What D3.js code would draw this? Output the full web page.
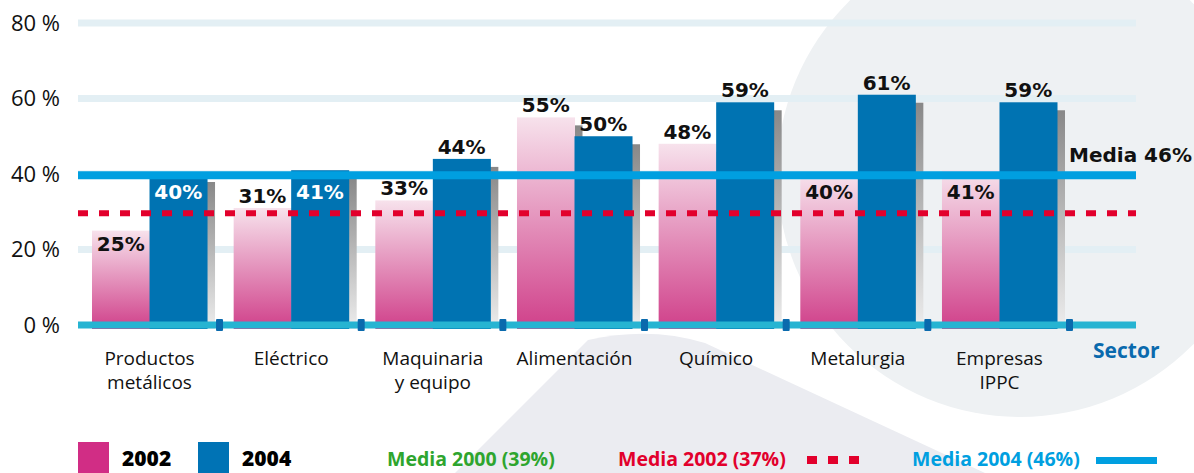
<!DOCTYPE html>
<html>
<head>
<meta charset="utf-8">
<script src="https://cdn.jsdelivr.net/npm/d3@7"></script>
<style>
  body { margin: 0; background: #fff; }
  svg { display: block; }
</style>
</head>
<body>
<div id="chart"></div>
<script>
// data
var sectors = ["Productos\nmetálicos", "Eléctrico", "Maquinaria\ny equipo", "Alimentación", "Químico", "Metalurgia", "Empresas\nIPPC"];
var years = ["2002", "2004"];
var values2002 = [25, 31, 33, 55, 48, 40, 41];
var values2004 = [40, 41, 44, 50, 59, 61, 59];
var yTicks = [0, 20, 40, 60, 80];
// where the average lines sit on the axis, as drawn
var media2004Pos = 39.7;
var media2002Pos = 29.6;
var media2004Label = "Media 46%";
var legendYears = ["2002", "2004"];
var legendMedia = ["Media 2000 (39%)", "Media 2002 (37%)", "Media 2004 (46%)"];

var width = 1194, height = 473;
var left = 78, right = 1136;

var svg = d3.select("#chart").append("svg")
    .attr("width", width)
    .attr("height", height);

var defs = svg.append("defs");
var pinkGrad = defs.append("linearGradient").attr("id", "pink")
    .attr("x1", 0).attr("y1", 0).attr("x2", 0).attr("y2", 1);
pinkGrad.append("stop").attr("offset", "0%").attr("stop-color", "#f7e2ec");
pinkGrad.append("stop").attr("offset", "100%").attr("stop-color", "#d0408a");
var greyGrad = defs.append("linearGradient").attr("id", "grey")
    .attr("x1", 0).attr("y1", 0).attr("x2", 0).attr("y2", 1);
greyGrad.append("stop").attr("offset", "0%").attr("stop-color", "#888");
greyGrad.append("stop").attr("offset", "100%").attr("stop-color", "#ededed");

// faint watermark in the background
svg.append("path")
    .attr("d", "M455,473 L588,340 Q650,326 705,343 L985,473 Z")
    .style("fill", "#ebecf1");
svg.append("circle")
    .attr("cx", 1020).attr("cy", 174).attr("r", 243)
    .style("fill", "#eef1f3");

// scales
var y = d3.scaleLinear().domain([0, 80]).range([325, 23]);
var x = d3.scaleBand().domain(sectors).range([92, 1057]).paddingInner(0.188).paddingOuter(0);
var xs = d3.scaleBand().domain(years).range([0, x.bandwidth()]);

// gridlines
svg.selectAll(".grid")
    .data(yTicks.filter(function(d) { return d > 0; }))
    .enter().append("line")
    .attr("x1", left).attr("x2", right)
    .attr("y1", function(d) { return y(d); })
    .attr("y2", function(d) { return y(d); })
    .style("stroke", "#e3eff4")
    .style("stroke-width", 7);

// tick labels
svg.selectAll(".ytick")
    .data(yTicks)
    .enter().append("text")
    .attr("x", 60)
    .attr("y", function(d) { return y(d) + 7.5; })
    .attr("text-anchor", "end")
    .style("font", "22px 'Open Sans'")
    .style("fill", "#111")
    .text(function(d) { return d + " %"; });

var bars = [];
sectors.forEach(function(s, i) {
  bars.push({sector: s, year: "2002", value: values2002[i]});
  bars.push({sector: s, year: "2004", value: values2004[i]});
});

var base = y(0) + 4;

// shadows
svg.selectAll(".shadow")
    .data(bars)
    .enter().append("rect")
    .attr("x", function(d) { return x(d.sector) + xs(d.year) + 8; })
    .attr("y", function(d) { return y(d.value) + 8; })
    .attr("width", xs.bandwidth())
    .attr("height", function(d) { return base - y(d.value) - 8; })
    .style("fill", "url(#grey)");

// bars
svg.selectAll(".bar")
    .data(bars)
    .enter().append("rect")
    .attr("x", function(d) { return x(d.sector) + xs(d.year); })
    .attr("y", function(d) { return y(d.value); })
    .attr("width", xs.bandwidth() + 0.5)
    .attr("height", function(d) { return base - y(d.value); })
    .style("fill", function(d) { return d.year == "2002" ? "url(#pink)" : "#0073b2"; });

// average lines
svg.append("line")
    .attr("x1", left).attr("x2", right)
    .attr("y1", y(media2002Pos)).attr("y2", y(media2002Pos))
    .style("stroke", "#e2002c")
    .style("stroke-width", 6)
    .style("stroke-dasharray", "10,11");

svg.append("line")
    .attr("x1", left).attr("x2", right)
    .attr("y1", y(media2004Pos)).attr("y2", y(media2004Pos))
    .style("stroke", "#009fe0")
    .style("stroke-width", 8);

svg.append("text")
    .attr("x", 1069)
    .attr("y", y(media2004Pos) - 13)
    .style("font", "bold 20px 'DejaVu Sans'")
    .style("fill", "#111")
    .text(media2004Label);

// axis band
svg.append("line")
    .attr("x1", left).attr("x2", right)
    .attr("y1", y(0)).attr("y2", y(0))
    .style("stroke", "#26b4d2")
    .style("stroke-width", 7);

svg.selectAll(".mark")
    .data(sectors)
    .enter().append("rect")
    .attr("x", function(d) { return x(d) + x.bandwidth() + 9; })
    .attr("y", y(0) - 6)
    .attr("width", 7)
    .attr("height", 12)
    .attr("rx", 1)
    .style("fill", "#0a6aad");

// value labels: inside the bar when a line would run through the label
var linePos = [y(media2004Pos), y(media2002Pos)];
function labelY(d) {
  var top = y(d.value);
  var hit = null;
  linePos.forEach(function(l) {
    var dd = l - top;
    if (dd > -22 && dd < 5) hit = l;
  });
  if (hit === null) return {y: top - 5, inside: false};
  return {y: Math.max(top, hit + 4) + 20, inside: true};
}

svg.selectAll(".val")
    .data(bars)
    .enter().append("text")
    .attr("x", function(d) { return x(d.sector) + xs(d.year) + xs.bandwidth() / 2; })
    .attr("y", function(d) { return labelY(d).y; })
    .attr("text-anchor", "middle")
    .style("font", "bold 20px 'DejaVu Sans'")
    .style("fill", function(d) {
      return (labelY(d).inside && d.year == "2004") ? "#fff" : "#111";
    })
    .text(function(d) { return d.value + "%"; });

// sector labels
var xl = svg.selectAll(".xlab")
    .data(sectors)
    .enter().append("text")
    .attr("text-anchor", "middle")
    .style("font", "19px 'Open Sans'")
    .style("fill", "#111");
xl.each(function(d) {
  var t = d3.select(this);
  d.split("\n").forEach(function(part, k) {
    t.append("tspan")
      .attr("x", x(d) + x.bandwidth() / 2)
      .attr("y", 365 + k * 24)
      .text(part);
  });
});

svg.append("text")
    .attr("x", 1093).attr("y", 358)
    .style("font", "bold 21px 'Open Sans'")
    .style("fill", "#0a6aad")
    .text("Sector");

// legend
var legColors = ["#d12d85", "#0073b5"];
var legX = [78, 198];
legendYears.forEach(function(t, i) {
  svg.append("rect")
      .attr("x", legX[i]).attr("y", 442)
      .attr("width", 31).attr("height", 31)
      .style("fill", legColors[i]);
  svg.append("text")
      .attr("x", legX[i] + 44).attr("y", 466)
      .style("font", "800 21px 'Open Sans'")
      .style("fill", "#000")
      .text(t);
});

var medColors = ["#2ea52e", "#e2002c", "#009fe0"];
var medX = [387, 618, 912];
legendMedia.forEach(function(t, i) {
  svg.append("text")
      .attr("x", medX[i]).attr("y", 466)
      .style("font", "bold 19.5px 'Open Sans'")
      .style("fill", medColors[i])
      .text(t);
});

svg.selectAll(".dash")
    .data([0, 1, 2])
    .enter().append("rect")
    .attr("x", function(d) { return 807 + d * 21; })
    .attr("y", 456)
    .attr("width", 10).attr("height", 8)
    .style("fill", "#e2002c");

svg.append("rect")
    .attr("x", 1096).attr("y", 457)
    .attr("width", 61).attr("height", 7)
    .style("fill", "#009fe0");
</script>
</body>
</html>
